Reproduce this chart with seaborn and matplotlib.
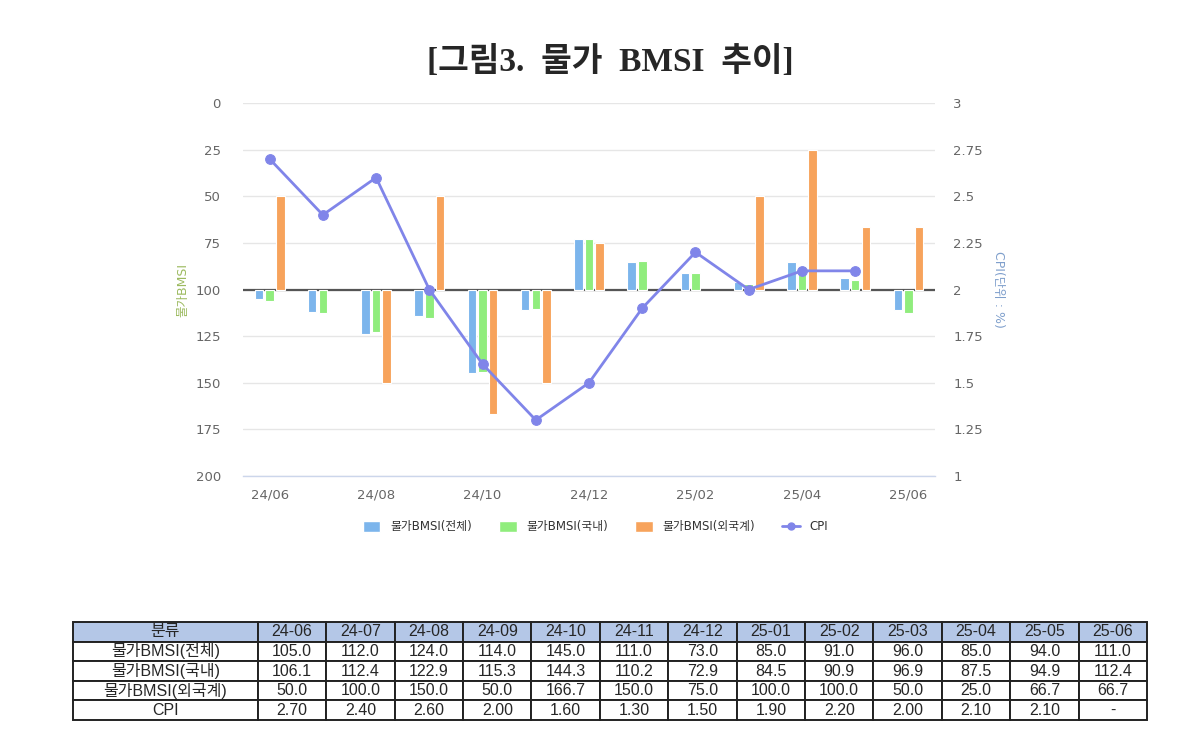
"""물가 BMSI 추이 — 막대(역축) + CPI 꺾은선 + 하단 표."""

import matplotlib

matplotlib.use("Agg")

import matplotlib.pyplot as plt
import numpy as np
import pandas as pd
import seaborn as sns
from matplotlib.lines import Line2D
from matplotlib.patches import Patch

months = ["24-06", "24-07", "24-08", "24-09", "24-10", "24-11", "24-12",
          "25-01", "25-02", "25-03", "25-04", "25-05", "25-06"]
tick_labels = ["24/06", "24/08", "24/10", "24/12", "25/02", "25/04", "25/06"]
bmsi_total = [105.0, 112.0, 124.0, 114.0, 145.0, 111.0, 73.0,
              85.0, 91.0, 96.0, 85.0, 94.0, 111.0]
bmsi_domestic = [106.1, 112.4, 122.9, 115.3, 144.3, 110.2, 72.9,
                 84.5, 90.9, 96.9, 87.5, 94.9, 112.4]
bmsi_foreign = [50.0, 100.0, 150.0, 50.0, 166.7, 150.0, 75.0,
                100.0, 100.0, 50.0, 25.0, 66.7, 66.7]
cpi = [2.70, 2.40, 2.60, 2.00, 1.60, 1.30, 1.50,
       1.90, 2.20, 2.00, 2.10, 2.10, np.nan]

series_names = ["물가BMSI(전체)", "물가BMSI(국내)", "물가BMSI(외국계)"]
colors = ["#7cb5ec", "#90ed7d", "#f7a35c"]
line_color = "#8085e9"

sns.set_theme(style="white")
plt.rcParams["font.family"] = ["DejaVu Sans", "Noto Sans CJK KR"]

fig = plt.figure(figsize=(12, 7.48), dpi=100)
ax = fig.add_axes([0.2025, 0.3636, 0.5767, 0.4987])

x = np.arange(len(months))
df = pd.DataFrame({"x": x, "cpi": cpi})

# 기준선 100
ax.axhline(100, color="#555555", linewidth=1.6, zorder=1)

for i, (vals, c) in enumerate(zip([bmsi_total, bmsi_domestic, bmsi_foreign], colors)):
    vals = np.array(vals)
    h = vals - 100
    lw = np.where(h == 0, 0, 0.8)
    ax.bar(x + (i - 1) * 0.2, h, bottom=100, width=0.16,
           color=c, edgecolor="white", linewidth=lw, zorder=2)

ax.set_ylim(200, 0)
ax.set_xlim(-0.5, 12.5)
ax.set_yticks(np.arange(0, 201, 25))
ax.grid(axis="y", color="#e6e6e6", linewidth=1)
ax.set_axisbelow(True)
for s in ["top", "left", "right"]:
    ax.spines[s].set_visible(False)
ax.spines["bottom"].set_color("#ccd6eb")
ax.spines["bottom"].set_linewidth(1)
ax.set_xticks(x[::2])
ax.set_xticklabels(tick_labels)
ax.set_xticks(np.arange(0.5, 13, 2), minor=True)
ax.tick_params(axis="x", which="major", length=0, pad=9, labelsize=9.5,
               labelcolor="#666666")
ax.tick_params(axis="x", which="minor", length=8, color="#ccd6eb", width=1)
ax.tick_params(axis="y", length=0, pad=16, labelsize=9.5, labelcolor="#666666")
ax.set_ylabel("물가BMSI", color="#9cba5f", fontsize=9, labelpad=4)

ax2 = ax.twinx()
sns.lineplot(data=df, x="x", y="cpi", ax=ax2, color=line_color, linewidth=2,
             marker="o", markersize=7, markeredgecolor=line_color, zorder=5)
ax2.set_ylim(1, 3)
ax2.set_yticks(np.arange(1, 3.01, 0.25))
ax2.set_yticklabels(["1", "1.25", "1.5", "1.75", "2", "2.25", "2.5", "2.75", "3"])
for s in ["top", "left", "right", "bottom"]:
    ax2.spines[s].set_visible(False)
ax2.tick_params(axis="y", length=0, pad=13, labelsize=9.5, labelcolor="#666666")
ax2.set_ylabel("CPI(단위 : %)", color="#7f9fcc", fontsize=9, rotation=270,
               labelpad=16)
ax2.set_xlabel("")
ax2.grid(False)

handles = [Patch(facecolor=c, label=n) for c, n in zip(colors, series_names)]
handles.append(Line2D([0], [0], color=line_color, marker="o", markersize=5,
                      linewidth=2, label="CPI"))
fig.legend(handles=handles, loc="center", bbox_to_anchor=(0.496, 0.2955),
           ncol=4, frameon=False, fontsize=8.5, handlelength=1.5,
           handleheight=1.1, columnspacing=2.3, labelcolor="#333333")

fig.text(0.509, 0.917, "[그림3.  물가  BMSI  추이]", ha="center", va="center",
         fontsize=24, fontweight="bold",
         family=["Liberation Serif", "Noto Sans CJK KR"])

# 하단 표
tax = fig.add_axes([0.0608, 0.0374, 0.895, 0.131])
tax.axis("off")

def fmt(v, d):
    return "-" if np.isnan(v) else f"{v:.{d}f}"

cells = [
    [series_names[0]] + [fmt(v, 1) for v in bmsi_total],
    [series_names[1]] + [fmt(v, 1) for v in bmsi_domestic],
    [series_names[2]] + [fmt(v, 1) for v in bmsi_foreign],
    ["CPI"] + [fmt(v, 2) for v in cpi],
]
first_w = 185 / 1074
other_w = (1 - first_w) / 13
table = tax.table(cellText=cells, colLabels=["분류"] + months,
                  colWidths=[first_w] + [other_w] * 13,
                  cellLoc="center", loc="center", bbox=[0, 0, 1, 1])
table.auto_set_font_size(False)
for (r, c), cell in table.get_celld().items():
    cell.set_edgecolor("#222222")
    cell.set_linewidth(1.4)
    cell.get_text().set_fontsize(11.5)
    cell.get_text().set_family(["Liberation Sans", "Noto Sans CJK KR"])
    if r == 0:
        cell.set_facecolor("#b4c7e7")

fig.savefig("out.png", dpi=100)
